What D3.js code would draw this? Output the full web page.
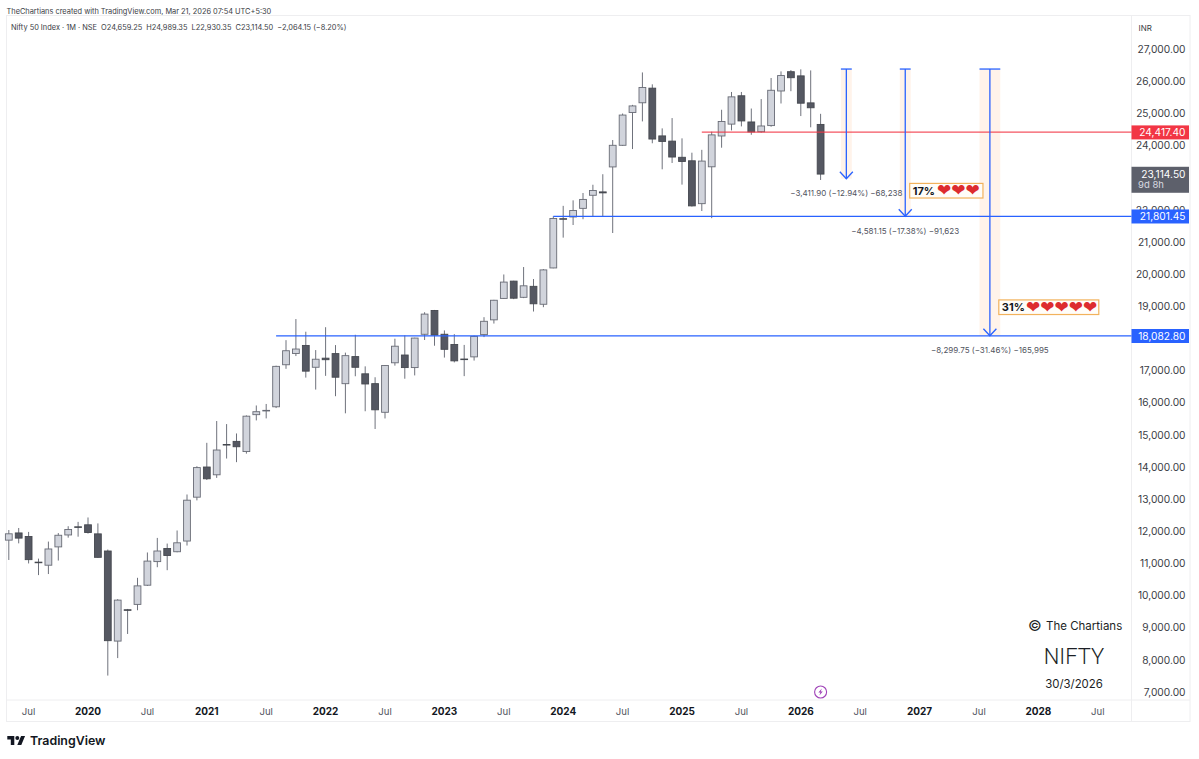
<!DOCTYPE html>
<html>
<head>
<meta charset="utf-8">
<script src="https://cdn.jsdelivr.net/npm/d3@7"></script>
<style>
  html, body { margin: 0; padding: 0; background: #fff; }
  svg { display: block; }
  text { font-family: Inter, "Noto Sans", sans-serif; }
</style>
</head>
<body>
<div id="chart"></div>
<script>
// monthly bars, May 2019 to Mar 2026
var months = ["2019-05","2019-06","2019-07","2019-08","2019-09","2019-10","2019-11","2019-12",
  "2020-01","2020-02","2020-03","2020-04","2020-05","2020-06","2020-07","2020-08","2020-09","2020-10","2020-11","2020-12",
  "2021-01","2021-02","2021-03","2021-04","2021-05","2021-06","2021-07","2021-08","2021-09","2021-10","2021-11","2021-12",
  "2022-01","2022-02","2022-03","2022-04","2022-05","2022-06","2022-07","2022-08","2022-09","2022-10","2022-11","2022-12",
  "2023-01","2023-02","2023-03","2023-04","2023-05","2023-06","2023-07","2023-08","2023-09","2023-10","2023-11","2023-12",
  "2024-01","2024-02","2024-03","2024-04","2024-05","2024-06","2024-07","2024-08","2024-09","2024-10","2024-11","2024-12",
  "2025-01","2025-02","2025-03","2025-04","2025-05","2025-06","2025-07","2025-08","2025-09","2025-10","2025-11","2025-12",
  "2026-01","2026-02","2026-03"];
var opens = [11725,11949,11839,11040,10945,11515,11886,12140,
  12202,11920,11387,8584,9560,9726,10323,11057,11464,11364,11697,13062,
  14000,13758,14702,14798,14481,15629,15755,15874,17182,17531,17783,17104,
  17387,17529,16593,17436,16900,16594,15703,17243,17485,17094,18130,18871,
  18131,17811,17360,17427,18120,18579,19246,19784,19280,19622,19064,20194,
  21727,21780,22048,22455,22560,23337,24010,25030,25333,25788,24302,24140,
  23637,23528,22194,23341,24300,24669,25551,24736,24432,24623,25700,26300,
  26170,25330,24659.25];
var highs = [12040,12103,11981,11150,11680,11945,12158,12293,
  12430,12246,11433,9889,9584,10553,11341,11794,11618,12025,13145,14024,
  14753,15431,15336,15044,15606,15915,15962,17153,17947,18604,18210,17639,
  18350,17794,17559,18114,17132,16793,17172,17992,18096,18022,18816,18887,
  18251,18134,17799,18089,18662,19201,19991,19795,20222,19849,20158,21801,
  22126,22297,22526,22783,23110,24174,24999,25268,26277,25907,24537,24857,
  24226,23780,23869,24433,25116,25669,25669,25154,25448,26104,26310,26350,
  26373,26340,24989.35];
var lows = [11108,11625,11000,10637,10670,11090,11802,11832,
  11929,11175,7511,8055,8806,9544,10299,10882,10790,11347,11557,12962,
  13596,13661,14264,14151,14416,15450,15513,15834,17055,17452,16782,16410,
  16836,16203,15671,16824,15735,15183,15511,17154,16747,16850,17952,17774,
  17405,17255,16828,17312,18042,18464,19234,19223,19255,18838,18973,20183,
  21137,21530,21710,21801,21801,21281,23992,23893,24753,24073,23263,23460,
  22786,22104,21965,21743,23935,24473,24598,24337,24404,24588,25311,25693,
  24920,24570,22930.35];
var closes = [11922,11788,11118,11023,11450,11877,12056,12130,
  11962,11190,8597,9859,9540,10302,11073,11387,11247,11642,12968,13982,
  13634,14529,14690,14631,15582,15721,15763,17132,17618,17671,16983,17354,
  17339,16794,17465,17103,16584,15780,17158,17759,17094,18012,18758,18105,
  17662,17303,17359,18065,18534,19189,19754,19253,19638,19079,20133,21731,
  21725,21982,22326,22604,22530,24010,24951,25235,25810,24205,24131,23645,
  23508,22125,23519,24334,24750,25517,24768,24427,24611,25722,26180,26113,
  25320,25178,23114.50];

// axis labels, 18,000 and 23,000 sit behind the price labels so they are left out
var priceTicks = [7000,8000,9000,10000,11000,12000,13000,14000,15000,16000,17000,19000,20000,21000,22000,24000,25000,26000,27000];
var timeTickBars = [2,8,14,20,26,32,38,44,50,56,62,68,74,80,86,92,98,104,110];
var timeTickLabels = ["Jul","2020","Jul","2021","Jul","2022","Jul","2023","Jul","2024","Jul","2025","Jul","2026","Jul","2027","Jul","2028","Jul"];

// horizontal levels
var levelPrices = [24417.40, 21801.45, 18082.80];
var levelLabels = ["24,417.40", "21,801.45", "18,082.80"];
var levelStartBars = [70, 55, 27];
var levelColors = ["#f23645", "#2962ff", "#2962ff"];

// measure arrows, all from the same high
var measureTop = 26382.55;
var measureBottoms = [22970.65, 21801.40, 18082.80];
var measureBars = [84.6, 90.55, 99.1];
var measureHalfBars = [0.55, 0.55, 1.05];
var measureTexts = ["\u22123,411.90 (\u221212.94%) \u221268,238", "\u22124,581.15 (\u221217.38%) \u221291,623", "\u22128,299.75 (\u221231.46%) \u2212165,995"];

// note boxes
var notePercents = ["17%", "31%"];
var noteHearts = [3, 5];
var notePrices = [22597, 18972];
var noteStartBars = [91, 100];
var noteEndBars = [98.4, 110.1];

var width = 1199, height = 759;
var plotRight = 1131.5, frameRight = 1190, axisY = 700, axisBottom = 721.5;

var svg = d3.select("#chart").append("svg").attr("width", width).attr("height", height);

var x = d3.scaleLinear().domain([0, 82]).range([8.8, 820.6]);
var y = d3.scaleLinear().domain([7000, 27000]).range([692, 49.2]);

// frame
var frame = svg.append("g").attr("stroke", "#eeeef0").attr("fill", "none");
frame.append("rect").attr("x", 6.5).attr("y", 15.5).attr("width", frameRight - 6.5).attr("height", axisBottom - 15.5);
frame.append("line").attr("x1", 6.5).attr("x2", frameRight).attr("y1", axisY).attr("y2", axisY);
frame.append("line").attr("x1", plotRight).attr("x2", plotRight).attr("y1", 15.5).attr("y2", axisBottom);

// header
svg.append("text").attr("x", 6.5).attr("y", 13.6).attr("font-size", 7.4).attr("fill", "#3a3d45")
  .text("TheChartians created with TradingView.com, Mar 21, 2026 07:54 UTC+5:30");
svg.append("text").attr("x", 11).attr("y", 29.6).attr("font-size", 7.4).attr("fill", "#3a3d45")
  .text("Nifty 50 Index \u00b7 1M \u00b7 NSE  O24,659.25  H24,989.35  L22,930.35  C23,114.50  \u22122,064.15 (\u22128.20%)")
  .attr("xml:space", "preserve");

// measure shading
svg.selectAll(".shade").data(measureBars).enter().append("rect")
  .attr("class", "shade")
  .attr("x", function (d, i) { return x(d - measureHalfBars[i]); })
  .attr("width", function (d, i) { return x(d + measureHalfBars[i]) - x(d - measureHalfBars[i]); })
  .attr("y", y(measureTop))
  .attr("height", function (d, i) { return y(measureBottoms[i]) - y(measureTop); })
  .attr("fill", "#fff3ea");

// candles
var bars = svg.append("g").selectAll("g").data(months).enter().append("g");
bars.append("line")
  .attr("x1", function (d, i) { return x(i); })
  .attr("x2", function (d, i) { return x(i); })
  .attr("y1", function (d, i) { return y(highs[i]); })
  .attr("y2", function (d, i) { return y(lows[i]); })
  .attr("stroke", "#6f727c")
  .attr("stroke-width", 1);
bars.append("rect")
  .attr("x", function (d, i) { return x(i) - 3.4; })
  .attr("width", 6.8)
  .attr("y", function (d, i) { return y(Math.max(opens[i], closes[i])); })
  .attr("height", function (d, i) { return Math.max(0.6, Math.abs(y(opens[i]) - y(closes[i]))); })
  .attr("fill", function (d, i) { return closes[i] >= opens[i] ? "#d1d4dc" : "#555862"; })
  .attr("stroke", function (d, i) { return closes[i] >= opens[i] ? "#686b75" : "#45484f"; })
  .attr("stroke-width", 0.9);

// levels
svg.selectAll(".level").data(levelPrices).enter().append("line")
  .attr("class", "level")
  .attr("x1", function (d, i) { return x(levelStartBars[i]); })
  .attr("x2", plotRight)
  .attr("y1", function (d) { return y(d); })
  .attr("y2", function (d) { return y(d); })
  .attr("stroke", function (d, i) { return levelColors[i]; })
  .attr("stroke-width", 1.3)
  .attr("stroke-opacity", function (d, i) { return i == 0 ? 0.85 : 1; });

// measure arrows
var measures = svg.selectAll(".measure").data(measureBars).enter().append("g").attr("class", "measure")
  .attr("stroke", "#2962ff").attr("stroke-width", 1.3).attr("fill", "none");
measures.append("line")
  .attr("x1", function (d) { return x(d); })
  .attr("x2", function (d) { return x(d); })
  .attr("y1", y(measureTop))
  .attr("y2", function (d, i) { return y(measureBottoms[i]); });
measures.append("line")
  .attr("x1", function (d, i) { return x(d - measureHalfBars[i]); })
  .attr("x2", function (d, i) { return x(d + measureHalfBars[i]); })
  .attr("y1", y(measureTop))
  .attr("y2", y(measureTop));
measures.append("path")
  .attr("d", function (d, i) {
    var px = x(d), py = y(measureBottoms[i]);
    return "M" + (px - 6.5) + "," + (py - 7) + "L" + px + "," + py + "L" + (px + 6.5) + "," + (py - 7);
  });
svg.selectAll(".measureText").data(measureTexts).enter().append("text")
  .attr("class", "measureText")
  .attr("x", function (d, i) { return x(measureBars[i]); })
  .attr("y", function (d, i) { return y(measureBottoms[i]) + 17.5; })
  .attr("text-anchor", "middle")
  .attr("font-size", 8)
  .attr("fill", "#50535e")
  .text(function (d) { return d; });

// note boxes
var notes = svg.selectAll(".note").data(notePercents).enter().append("g").attr("class", "note");
notes.append("rect")
  .attr("x", function (d, i) { return x(noteStartBars[i]); })
  .attr("y", function (d, i) { return y(notePrices[i]) - 7.3; })
  .attr("width", function (d, i) { return x(noteEndBars[i]) - x(noteStartBars[i]); })
  .attr("height", 14.6)
  .attr("fill", "#fffdf9")
  .attr("stroke", "#f2b25c")
  .attr("stroke-width", 1.2);
notes.append("text")
  .attr("x", function (d, i) { return x(noteStartBars[i]) + 3; })
  .attr("y", function (d, i) { return y(notePrices[i]) + 4; })
  .attr("font-size", 11)
  .attr("font-weight", 700)
  .attr("fill", "#131722")
  .text(function (d) { return d; });
notes.each(function (d, i) {
  d3.select(this).selectAll(".heart").data(d3.range(noteHearts[i])).enter().append("text")
    .attr("class", "heart")
    .attr("x", function (h) { return x(noteStartBars[i]) + 34.4 + h * 14.2; })
    .attr("y", y(notePrices[i]) + 5.3)
    .attr("text-anchor", "middle")
    .attr("font-size", 17)
    .attr("style", "font-family:'DejaVu Sans'")
    .attr("fill", "#dd2c2f")
    .text("\u2764");
});

// price axis
svg.selectAll(".priceTick").data(priceTicks).enter().append("text")
  .attr("class", "priceTick")
  .attr("x", 1185.5)
  .attr("y", function (d) { return y(d) + 3.7; })
  .attr("text-anchor", "end")
  .attr("font-size", 10.2)
  .attr("fill", "#3a3d45")
  .text(function (d) { return d3.format(",.2f")(d); });
svg.append("text").attr("x", 1138.5).attr("y", 31).attr("font-size", 8).attr("fill", "#3a3d45").text("INR");

// price labels on the axis
svg.selectAll(".levelBox").data(levelPrices).enter().append("rect")
  .attr("class", "levelBox")
  .attr("x", plotRight)
  .attr("y", function (d) { return y(d) - 6.8; })
  .attr("width", 57.5)
  .attr("height", 14)
  .attr("fill", function (d, i) { return levelColors[i]; });
svg.selectAll(".levelText").data(levelLabels).enter().append("text")
  .attr("class", "levelText")
  .attr("x", 1185.5)
  .attr("y", function (d, i) { return y(levelPrices[i]) + 3.8; })
  .attr("text-anchor", "end")
  .attr("font-size", 10.2)
  .attr("fill", "#fff")
  .text(function (d) { return d; });

svg.append("rect").attr("x", plotRight).attr("y", y(closes[82]) - 7.3).attr("width", 57.5).attr("height", 26).attr("fill", "#5d606b");
svg.append("text").attr("x", 1185.5).attr("y", y(closes[82]) + 3.6).attr("text-anchor", "end").attr("font-size", 10.2).attr("fill", "#fff").text("23,114.50");
svg.append("text").attr("x", 1138).attr("y", y(closes[82]) + 14).attr("font-size", 9.5).attr("fill", "#d8dae0").text("9d 8h");

// time axis
svg.selectAll(".timeTick").data(timeTickBars).enter().append("text")
  .attr("class", "timeTick")
  .attr("x", function (d) { return x(d); })
  .attr("y", 714.6)
  .attr("text-anchor", "middle")
  .attr("font-size", function (d, i) { return i % 2 ? 10 : 9.6; })
  .attr("font-weight", function (d, i) { return i % 2 ? 700 : 400; })
  .attr("fill", function (d, i) { return i % 2 ? "#131722" : "#50535e"; })
  .text(function (d, i) { return timeTickLabels[i]; });

// watermark
var marks = svg.append("g").attr("fill", "#1c1f26");
marks.append("text").attr("x", 1028).attr("y", 631).attr("font-size", 15).text("\u00a9");
marks.append("text").attr("x", 1046).attr("y", 630).attr("font-size", 11.5).text("The Chartians");
marks.append("text").attr("x", 1074).attr("y", 664.3).attr("text-anchor", "middle").attr("font-size", 22).attr("font-weight", 300).attr("style", "font-family:Roboto").text("NIFTY");
marks.append("text").attr("x", 1074).attr("y", 688).attr("text-anchor", "middle").attr("font-size", 11.4).text("30/3/2026");

// earnings style marker
var bolt = svg.append("g").attr("transform", "translate(" + x(82) + ",692)");
bolt.append("circle").attr("r", 6).attr("fill", "#fff").attr("stroke", "#a043b8").attr("stroke-width", 1.1);
bolt.append("path").attr("d", "M1.2,-3.4L-2.2,0.6H-0.2L-1.2,3.4L2.2,-0.6H0.2Z").attr("fill", "#a043b8");

// logo
var logo = svg.append("g").attr("transform", "translate(7.3,734) scale(0.5)").attr("fill", "#131722");
logo.append("path").attr("d", "M14 22H7V11H0V4h14v18zM28 22h-8l7.5-18h8L28 22z");
logo.append("circle").attr("cx", 20).attr("cy", 8).attr("r", 4);
svg.append("text").attr("x", 30).attr("y", 745).attr("font-size", 12.4).attr("font-weight", 600).attr("fill", "#131722").text("TradingView");
</script>
</body>
</html>
